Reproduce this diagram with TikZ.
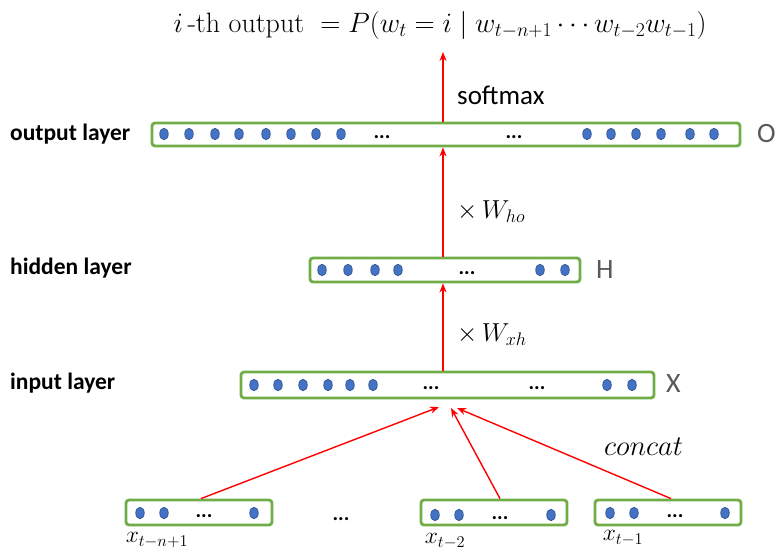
\RequirePackage{fix-cm}
\documentclass[tikz,border=0pt]{standalone}
\usepackage{fontspec}
\newfontfamily\calibri{Carlito}
\usetikzlibrary{arrows.meta,shapes.geometric}

\definecolor{boxgreen}{RGB}{112,173,71}
\definecolor{dotblue}{RGB}{68,114,196}
\definecolor{dotedge}{RGB}{47,82,143}
\definecolor{lettergray}{RGB}{89,89,89}

\tikzstyle{layer}=[draw=boxgreen,line width=2.8pt,rounded corners=3pt,inner sep=0pt]
\tikzstyle{unit}=[ellipse,draw=dotedge,fill=dotblue,line width=0.7pt,minimum width=8.5pt,minimum height=11.5pt,inner sep=0pt]
\tikzstyle{dots}=[inner sep=0pt,font=\calibri\bfseries\fontsize{21}{21}\selectfont]
\tikzstyle{edge}=[draw=red,line width=1.4pt,->]
\tikzstyle{lname}=[anchor=west,inner sep=0pt,font=\calibri\bfseries\fontsize{23.5}{26}\selectfont]
\tikzstyle{tag}=[anchor=west,inner sep=0pt,text=lettergray,font=\calibri\fontsize{28}{30}\selectfont]
\tikzstyle{wlabel}=[anchor=west,inner sep=0pt,font=\fontsize{26}{30}\selectfont]
\tikzstyle{xlabel}=[font=\fontsize{23.5}{26}\selectfont]

\begin{document}
\begin{tikzpicture}[x=1pt,y=-1pt,>={Stealth[length=9pt,width=7pt]}]
			\useasboundingbox (0,0) rectangle (778,552);
			% layers
			\node [layer,minimum width=588pt,minimum height=23pt] (out) at (446,134.5) {};
			\node [layer,minimum width=270pt,minimum height=24pt] (hid) at (445,270) {};
			\node [layer,minimum width=413pt,minimum height=26pt] (in)  at (447.5,385) {};
			\node [layer,minimum width=146pt,minimum height=25pt] (b1)  at (199,512.5) {};
			\node [layer,minimum width=146pt,minimum height=25pt] (b2)  at (494,512.5) {};
			\node [layer,minimum width=146pt,minimum height=25pt] (b3)  at (668,512.5) {};

			% units
			\foreach \x [count=\i] in {164,189,215,239,266,291,316,341,587,611,636,661,690,714}
				\node [unit] (o\i) at (\x,134) {};
			\foreach \x [count=\i] in {322,348,375,398,540,565}
				\node [unit] (h\i) at (\x,270) {};
			\foreach \x [count=\i] in {254,278,303,328,350,373,607,632}
				\node [unit] (i\i) at (\x,385) {};
			\foreach \x [count=\i] in {140,164,254}
				\node [unit] (p\i) at (\x,513) {};
			\foreach \x [count=\i] in {435,459,551}
				\node [unit] (q\i) at (\x,515) {};
			\foreach \x [count=\i] in {610,634,725}
				\node [unit] (r\i) at (\x,513) {};

			\node [dots] (odots1) at (382,137) {...};
			\node [dots] (odots2) at (514,137) {...};
			\node [dots] (hdots)  at (467,273) {...};
			\node [dots] (idots1) at (431,388) {...};
			\node [dots] (idots2) at (537,388) {...};
			\node [dots] (pdots)  at (204,516) {...};
			\node [dots] (qdots)  at (500,518) {...};
			\node [dots] (rdots)  at (675,516) {...};
			\node [dots] (mdots)  at (341,519) {...};

			% texts
			\node [font=\fontsize{28}{32}\selectfont] (title) at (440,25)
				{$i$\,-th output $\;=P(w_t=i\mid w_{t-n+1}\cdots w_{t-2}w_{t-1})$};
			\node [lname] (olabel) at (10,134) {output layer};
			\node [lname] (hlabel) at (10,268) {hidden layer};
			\node [lname] (ilabel) at (10,383) {input layer};
			\node [tag] (otag) at (757,134) {O};
			\node [tag] (htag) at (596,270) {H};
			\node [tag] (itag) at (666,384) {X};
			\node [anchor=west,inner sep=0pt,font=\calibri\fontsize{27}{30}\selectfont] (soft) at (457,95) {softmax};
			\node [wlabel] (who) at (457,212) {$\times\,W_{ho}$};
			\node [wlabel] (wxh) at (457,335) {$\times\,W_{xh}$};
			\node [wlabel,font=\fontsize{28.5}{30}\selectfont] (concat) at (604,447) {$concat$};
			\node [xlabel] (x1) at (157,540) {$x_{t-n+1}$};
			\node [xlabel] (x2) at (445,541) {$x_{t-2}$};
			\node [xlabel] (x3) at (623,538) {$x_{t-1}$};

			% connections
			\coordinate (top) at (443,52);
			\coordinate (c1) at (439,407);
			\coordinate (c2) at (451,408);
			\coordinate (c3) at (457,408);
			\draw [edge] (out.north -| top) -- (top);
			\draw [edge] (hid.north -| top) -- (out.south -| top);
			\draw [edge] (in.north -| top) -- (hid.south -| top);
			\draw [edge] ([xshift=2pt]b1.north) -- (c1);
			\draw [edge] ([xshift=6pt]b2.north) -- (c2);
			\draw [edge] ([xshift=3pt]b3.north) -- (c3);
	\end{tikzpicture}
\end{document}
